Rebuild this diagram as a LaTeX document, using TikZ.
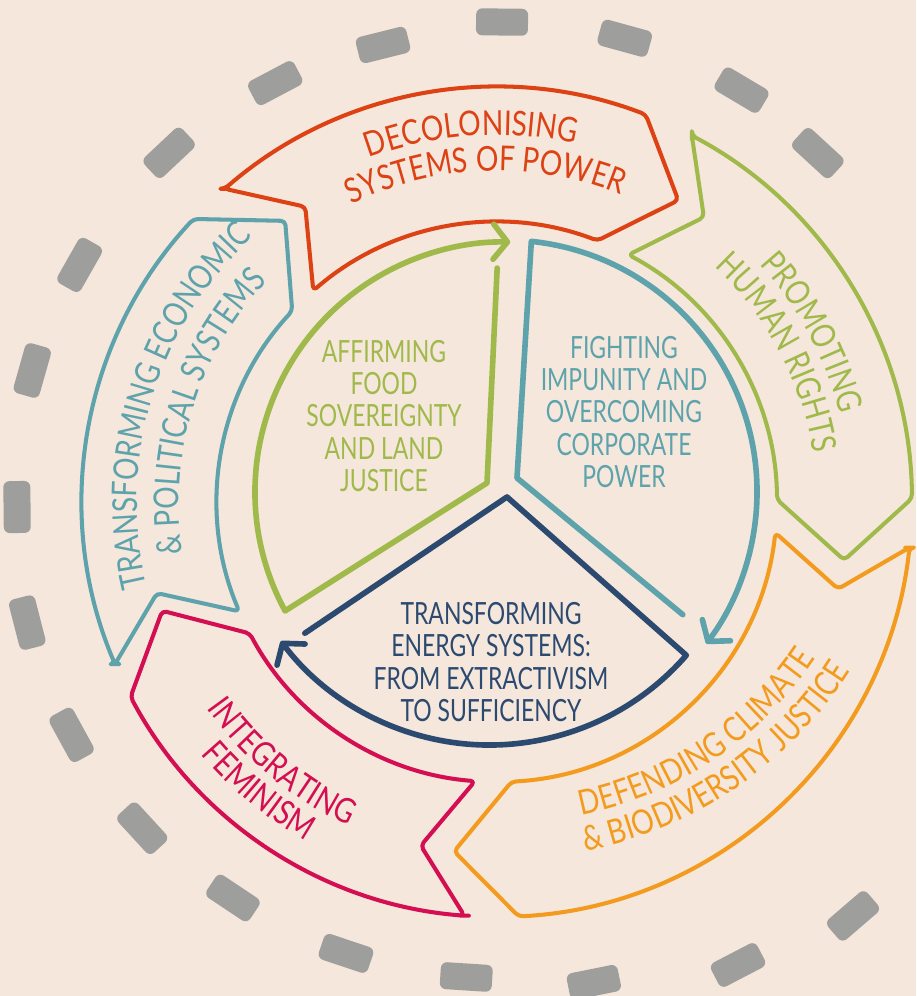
\documentclass[tikz,border=0pt]{standalone}
\usepackage{fontspec}
\setmainfont{Lato}
\newfontfamily\bandfont{Lato}[FakeStretch=0.82]
\newfontfamily\corefont{Lato}[FakeStretch=0.75]
\usetikzlibrary{arrows.meta,decorations.text}

\definecolor{bgbeige}{HTML}{F5E7DB}
\definecolor{dashgray}{HTML}{9E9E9C}
\definecolor{bandred}{HTML}{DD4214}
\definecolor{bandgreen}{HTML}{A0B94B}
\definecolor{bandorange}{HTML}{F39B1E}
\definecolor{bandmagenta}{HTML}{D40E52}
\definecolor{bandteal}{HTML}{5EA3AC}
\definecolor{corenavy}{HTML}{2C4970}

\newcommand\bandlbl{\bandfont\fontsize{19.5}{20}\selectfont}

\newcommand\chevronband[3]{%
  \draw[band,#1] (#2:415) -- (#2-8:352) -- (#2:280)
    arc[start angle=#2, end angle=#3, radius=280]
    -- (#3-10:352) -- (#3:415)
    arc[start angle=#3, end angle=#2, radius=415] -- cycle;}

\tikzset{
  band/.style={line width=2.3pt, rounded corners=2.5pt, line join=round},
  core/.style={line width=3.2pt, line cap=round, line join=round,
    -{Straight Barb[length=8pt, width=20pt, round]}},
  dashbox/.style={fill=dashgray, rounded corners=3.5pt, inner sep=0pt,
    minimum width=1.04cm, minimum height=0.54cm},
  coretext/.style={align=center, font=\corefont\fontsize{17.4}{18.4}\selectfont},
  bandtext/.style 2 args={decorate, decoration={text along path,
    text align=center, text color=#1, text={|\bandlbl|#2}}}
}

\begin{document}
\begin{tikzpicture}[scale=0.02]
\useasboundingbox (-497,-494) rectangle (419,502);
\fill[bgbeige] (-497,-494) rectangle (419,502);

\foreach \a/\r [count=\i] in {47.4/474, 59.3/479, 74.6/481, 89.4/480,
    104/471, 117.9/474, 133.2/479, 150.4/480, 164.2/483, 180.6/480,
    194.4/485, 208.7/485, 222.6/482, 236.3/476, 251.5/476, 266.3/476,
    281.4/490, 297.5/522, 310.7/546}
  \node[dashbox, rotate=\a+90] (dash\i) at (\a:\r) {};

\chevronband{bandred}{131}{69}
\chevronband{bandgreen}{62}{0.5}
\chevronband{bandorange}{-6.3}{-87}
\chevronband{bandmagenta}{-94.5}{-152}
\chevronband{bandteal}{203}{137}

\path[bandtext={bandred}{DECOLONISING}] (134:367) arc[start angle=134, end angle=54, radius=367];
\path[bandtext={bandred}{SYSTEMS OF POWER}] (132:331) arc[start angle=132, end angle=52, radius=331];
\path[bandtext={bandgreen}{PROMOTING}] (68.3:354) arc[start angle=68.3, end angle=-11.7, radius=354];
\path[bandtext={bandgreen}{HUMAN RIGHTS}] (68:320) arc[start angle=68, end angle=-12, radius=320];
\path[bandtext={bandteal}{TRANSFORMING ECONOMIC}] (203.1:360) arc[start angle=203.1, end angle=123.1, radius=360];
\path[bandtext={bandteal}{{\&} POLITICAL SYSTEMS}] (202.7:318) arc[start angle=202.7, end angle=122.7, radius=318];
\path[bandtext={bandmagenta}{INTEGRATING}] (-169.6:356) arc[start angle=-169.6, end angle=-89.6, radius=356];
\path[bandtext={bandmagenta}{FEMINISM}] (-169.5:389) arc[start angle=-169.5, end angle=-89.5, radius=389];
\begin{scope}[shift={(13,47)}]
  \path[bandtext={bandorange}{DEFENDING CLIMATE}] (-96.2:367) arc[start angle=-96.2, end angle=-16.2, radius=367];
  \path[bandtext={bandorange}{{\&} BIODIVERSITY JUSTICE}] (-95.8:403) arc[start angle=-95.8, end angle=-15.8, radius=403];
\end{scope}

\begin{scope}[shift={(8,10)}]
  \coordinate (gc) at (-18,9);
  \coordinate (tc) at (12,14);
  \coordinate (nc) at (2,-5);
  \draw[core, bandgreen] (92:224) -- (gc) -- (-151.6:250)
    arc[start angle=-151.6, end angle=-271.2, radius=250];
  \draw[core, bandteal] (-34.6:216) -- (tc) -- (84:252)
    arc[start angle=84, end angle=-37, radius=252];
  \draw[core, corenavy] (-144.8:245) -- (nc) -- (-42:244)
    arc[start angle=-41, end angle=-143, radius=261];
\end{scope}

\node[coretext, text=bandgreen] (food) at (-113,86)
  {AFFIRMING\\FOOD\\SOVEREIGNTY\\AND LAND\\JUSTICE};
\node[coretext, text=bandteal] (impunity) at (127,90)
  {FIGHTING\\IMPUNITY AND\\OVERCOMING\\CORPORATE\\POWER};
\node[coretext, text=corenavy] (energy) at (-6,-160)
  {TRANSFORMING\\ENERGY SYSTEMS:\\FROM EXTRACTIVISM\\TO SUFFICIENCY};
\end{tikzpicture}
\end{document}
